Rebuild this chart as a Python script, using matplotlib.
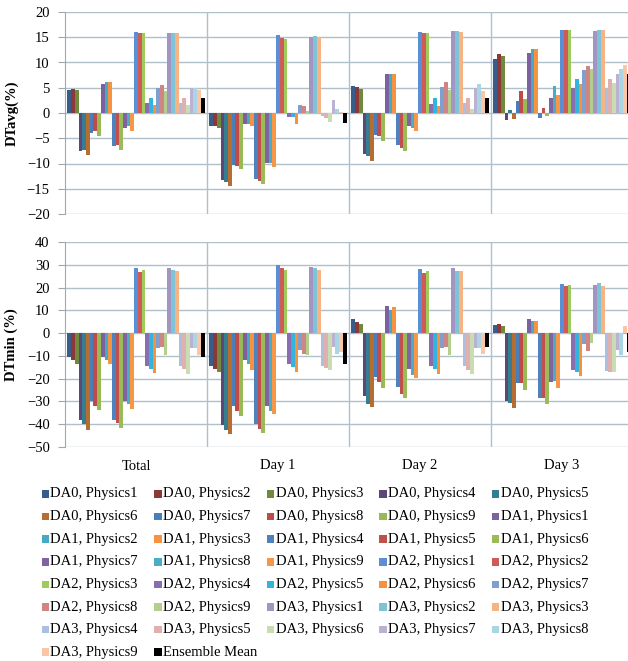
import matplotlib
matplotlib.use("Agg")
import matplotlib.pyplot as plt
from matplotlib.patches import Rectangle
import numpy as np

plt.rcParams["font.family"] = ["Liberation Serif", "DejaVu Serif"]

categories = ["Total", "Day 1", "Day 2", "Day 3"]

series_names = [f"DA{da}, Physics{p}" for da in range(4) for p in range(1, 10)] + ["Ensemble Mean"]

colors = [
    "#385D8A", "#8C3836", "#71893F", "#5C4776", "#357D91", "#B66D31",
    "#4A7EBB", "#BE4B48", "#98B954", "#7D60A0", "#46AAC5", "#F69240",
    "#4F81BD", "#C0504D", "#9BBB59", "#8064A2", "#4BACC6", "#F79646",
    "#5B8FD3", "#D05A57", "#9FCB5C", "#8A6DB0", "#31B4DD", "#F9913B",
    "#7F9FCF", "#CF8584", "#B3CE8D", "#A395C1", "#7EC3D7", "#F8B384",
    "#A9C0E0", "#DFB0AF", "#C9DDB3", "#BCB1D2", "#A9D6E4", "#FAC6A6",
    "#000000",
]

# DTavg(%) per series, one row per category (Total, Day 1, Day 2, Day 3)
dtavg = np.array([
    [4.6, 4.8, 4.5, -7.6, -7.3, -8.3, -4.0, -3.6, -4.6,
     5.8, 6.2, 6.1, -6.6, -6.3, -7.3, -3.0, -2.6, -3.6,
     16.0, 15.8, 15.8, 1.9, 2.9, 1.5, 5.0, 5.6, 4.3,
     15.9, 15.9, 15.8, 2.0, 2.9, 1.6, 5.0, 5.0, 4.6, 2.9],
    [-2.5, -2.6, -3.0, -13.2, -13.6, -14.4, -10.3, -10.4, -11.1,
     -2.1, -2.1, -2.5, -13.1, -13.4, -14.0, -9.9, -9.9, -10.7,
     15.4, 14.9, 14.7, -0.7, -0.8, -2.1, 1.5, 1.3, 0.3,
     15.1, 15.2, 15.0, -0.5, -1.0, -1.8, 2.6, 0.8, 0.2, -2.0],
    [5.3, 5.2, 4.8, -8.1, -8.6, -9.6, -4.3, -4.6, -5.6,
     7.8, 7.7, 7.7, -6.3, -7.0, -7.6, -2.5, -3.0, -3.6,
     16.0, 15.9, 15.9, 1.7, 2.9, 1.3, 5.2, 6.1, 4.5,
     16.2, 16.2, 16.0, 1.9, 2.9, 0.7, 5.0, 5.8, 4.3, 2.9],
    [10.7, 11.6, 11.3, -1.4, 0.6, -1.1, 2.3, 4.3, 2.8,
     11.9, 12.7, 12.7, -1.0, 1.0, -0.5, 3.0, 5.3, 3.6,
     16.5, 16.5, 16.5, 5.0, 6.8, 5.8, 8.5, 9.4, 8.7,
     16.2, 16.5, 16.5, 5.0, 6.8, 6.0, 7.8, 8.8, 9.6, 7.8],
])

# DTmin (%) per series, one row per category
dtmin = np.array([
    [-10.7, -11.9, -13.4, -38.1, -40.0, -42.5, -29.9, -32.1, -33.6,
     -10.4, -11.9, -13.7, -38.1, -39.6, -41.5, -29.9, -31.3, -33.1,
     28.4, 26.9, 27.6, -14.3, -15.7, -17.6, -6.7, -6.3, -9.4,
     28.8, 27.6, 27.3, -14.3, -15.7, -17.9, -6.7, -6.7, -9.7, -10.4],
    [-14.5, -15.7, -17.2, -40.3, -42.5, -44.5, -32.1, -34.3, -36.3,
     -11.9, -13.7, -16.4, -40.0, -42.1, -44.0, -32.1, -34.0, -35.5,
     29.9, 28.7, 27.6, -13.7, -14.9, -17.2, -7.5, -9.0, -9.7,
     29.1, 28.4, 27.6, -14.5, -15.4, -16.1, -6.0, -9.3, -8.2, -13.7],
    [6.3, 4.8, 4.0, -27.6, -31.0, -32.5, -19.4, -21.6, -23.9,
     11.9, 10.1, 11.3, -23.6, -26.9, -28.4, -15.7, -18.2, -19.7,
     28.1, 26.6, 27.3, -14.5, -15.7, -17.9, -6.7, -6.3, -9.7,
     28.7, 27.2, 27.2, -14.5, -16.1, -17.9, -6.7, -6.7, -9.3, -6.0],
    [3.4, 4.0, 3.3, -29.9, -30.6, -32.8, -21.9, -21.9, -24.9,
     6.0, 5.4, 5.4, -28.7, -28.7, -31.3, -21.6, -20.9, -23.9,
     21.6, 20.9, 21.3, -16.4, -17.2, -18.7, -4.8, -7.9, -4.2,
     21.2, 22.1, 20.9, -16.7, -17.0, -17.0, -7.2, -9.6, 3.3, -8.2],
])

n_series = len(series_names)
x = np.arange(len(categories))
group_w = 0.965
bar_w = group_w / n_series

W, H = 628, 661
fig = plt.figure(figsize=(W / 100, H / 100), dpi=100)
ax1 = fig.add_axes([65 / W, 1 - 214 / H, 568 / W, 202 / H])
ax2 = fig.add_axes([65 / W, 1 - 447 / H, 568 / W, 205 / H])

grid_c = "#B0C0CA"
for ax, data, ylim, step, label in [
    (ax1, dtavg, (-20, 20), 5, "DTavg(%)"),
    (ax2, dtmin, (-50, 40), 10, "DTmin (%)"),
]:
    for i in range(n_series):
        offs = (i - (n_series - 1) / 2) * bar_w
        ax.bar(x + offs, data[:, i], width=bar_w, color=colors[i],
               linewidth=0, zorder=3)
    ax.set_xlim(-0.5, 3.5)
    ax.set_ylim(*ylim)
    ax.set_yticks(np.arange(ylim[0], ylim[1] + 1, step))
    ax.yaxis.grid(True, color=grid_c, linewidth=1.0, zorder=0)
    for b in [0.5, 1.5, 2.5]:
        ax.axvline(b, color=grid_c, linewidth=1.0, zorder=1)
    for s in ["top", "right", "bottom"]:
        ax.spines[s].set_visible(False)
    ax.spines["left"].set_color("#A0A8AE")
    ax.tick_params(axis="y", length=5, color="#A0A8AE", labelsize=10.5, pad=6)
    ax.set_ylabel(label, fontsize=10.5, fontweight="bold")
    ax.yaxis.set_label_coords(-0.082, 0.5)
    ax.set_xticks([])

ax2.set_xticks(x)
ax2.set_xticklabels(categories, fontsize=10.5)
ax2.tick_params(axis="x", length=0, pad=9)

# legend laid out row by row, 5 columns, fixed pitch
col_x0, col_dx = 41.5, 112.6
row_y0, row_dy = 494, 22.6
sq = 7.5
for k, name in enumerate(series_names):
    r, c = divmod(k, 5)
    px = col_x0 + c * col_dx
    py = row_y0 + r * row_dy
    fig.add_artist(Rectangle((px / W, 1 - (py + sq / 2) / H), sq / W, sq / H,
                             transform=fig.transFigure, facecolor=colors[k],
                             edgecolor="none"))
    fig.text((px + sq + 1.5) / W, 1 - py / H, name, fontsize=10.5,
             ha="left", va="center")

fig.savefig("out.png", dpi=100, facecolor="white")
